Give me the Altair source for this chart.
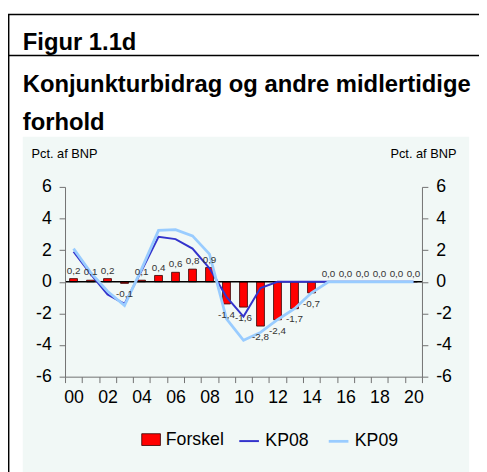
import altair as alt
import pandas as pd

# ---- data ----
years = list(range(2000, 2021))
forskel = [0.2, 0.1, 0.2, -0.1, 0.1, 0.4, 0.6, 0.8, 0.9, -1.4, -1.6, -2.8, -2.4, -1.7, -0.7,
           0.0, 0.0, 0.0, 0.0, 0.0, 0.0]
kp08 = [1.9, 0.5, -0.8, -1.4, 0.7, 2.85, 2.7, 2.1, 0.85, -0.95, -2.2, -0.4, 0.0, 0.0, 0.0,
        0.0, 0.0, 0.0, 0.0, 0.0, 0.0]
kp09 = [2.1, 0.6, -0.6, -1.5, 0.8, 3.25, 3.3, 2.9, 1.75, -2.35, -3.7, -3.2, -2.4, -1.7, -0.7,
        0.0, 0.0, 0.0, 0.0, 0.0, 0.0]
series_names = ["Forskel", "KP08", "KP09"]
series_colors = ["#FF0000", "#3333CC", "#99CCFF"]
line_widths = [2, 2.8]
y_ticks = [-6, -4, -2, 0, 2, 4, 6]

title_text = "Figur 1.1d"
subtitle_lines = ["Konjunkturbidrag og andre midlertidige", "forhold"]
unit_text = "Pct. af BNP"

FONT = "Liberation Sans"
BG = "#F1F8F6"
AX = "#707070"

df = pd.DataFrame({"year": years, "Forskel": forskel, "KP08": kp08, "KP09": kp09})
df["s1"] = series_names[0]
long = df.melt(id_vars=["year"], value_vars=["KP08", "KP09"], var_name="serie", value_name="v")
one = pd.DataFrame({"a": [0]})

yscale = alt.Scale(domain=[-6, 6], nice=False, zero=False)


def yaxis(orient, tx):
    return alt.Axis(orient=orient, values=y_ticks, title=unit_text, titleAngle=0,
                    titleX=tx, titleY=-34, titleAlign="center", titleBaseline="middle",
                    titleFontSize=13, titleFontWeight="normal", titleFont=FONT, titleColor="black",
                    labelExpr="'' + datum.value", labelFontSize=18, labelFont=FONT,
                    labelColor="black", labelPadding=8, tickSize=6, tickColor=AX,
                    domainColor=AX, grid=False, zindex=1)


xaxis = alt.Axis(title=None, labelAngle=0, tickBand="extent", labelOverlap=False,
                 labelExpr="toNumber(datum.value) % 2 == 0 ? substring(datum.label, 2, 4) : ''",
                 labelFontSize=18, labelFont=FONT, labelColor="black", labelPadding=6,
                 tickSize=6, tickColor=AX, domainColor=AX, grid=False, zindex=1)
xscale = alt.Scale(paddingInner=0, paddingOuter=0)

# ---- decoration ----
bg = alt.Chart(one).mark_rect(color=BG).encode(
    x=alt.value(-43), x2=alt.value(411), y=alt.value(-51), y2=alt.value(290))
frame_left = alt.Chart(one).mark_rule(color="black", strokeWidth=1.5).encode(
    x=alt.value(-57.3), y=alt.value(-175.3), y2=alt.value(290))
frame_top = alt.Chart(one).mark_rule(color="black", strokeWidth=1.5).encode(
    x=alt.value(-58), x2=alt.value(425), y=alt.value(-175.3))
frame_mid = alt.Chart(one).mark_rule(color="black", strokeWidth=1.5).encode(
    x=alt.value(-58), x2=alt.value(425), y=alt.value(-133.7))


def heading(txt, y):
    return alt.Chart(one).mark_text(text=txt, align="left", baseline="alphabetic",
                                    fontSize=24.2, fontWeight="bold", font=FONT,
                                    color="black").encode(x=alt.value(-43), y=alt.value(y))


t1 = heading(title_text, -139.5)
t2 = heading(subtitle_lines[0], -96.7)
t3 = heading(subtitle_lines[1], -57.7)

# ---- data marks ----
bars = alt.Chart(df).mark_bar(width=8, stroke="#300000", strokeWidth=0.8).encode(
    x=alt.X("year:O", scale=xscale, axis=xaxis),
    y=alt.Y("Forskel:Q", scale=yscale, axis=yaxis("left", -1)),
    color=alt.Color("s1:N", scale=alt.Scale(domain=series_names[:1], range=series_colors[:1]),
                    legend=alt.Legend(orient="none", legendX=77.5, legendY=247, title=None,
                                      padding=0, symbolType="M-1,-0.63H1V0.63H-1Z",
                                      symbolSize=361, symbolStrokeColor="#300000",
                                      symbolStrokeWidth=0.8, symbolOpacity=1,
                                      labelFontSize=18, labelFont=FONT, labelColor="black",
                                      labelOffset=5)),
)

zero = alt.Chart(one).mark_rule(color="black", strokeWidth=1.5).encode(
    y=alt.YDatum(0, scale=yscale, axis=None))

line_legend = alt.Legend(orient="none", legendX=175.7, legendY=247, title=None, padding=0,
                         direction="horizontal", columns=2, columnPadding=13,
                         symbolType="stroke", symbolSize=400, symbolStrokeWidth=2.5,
                         labelFontSize=18, labelFont=FONT, labelColor="black", labelOffset=5)

lines = alt.Chart(long).mark_line().encode(
    x=alt.X("year:O", scale=xscale, bandPosition=0.5, axis=None),
    y=alt.Y("v:Q", scale=yscale, axis=yaxis("right", 1)),
    color=alt.Color("serie:N", scale=alt.Scale(domain=series_names[1:], range=series_colors[1:]),
                    legend=line_legend),
    strokeWidth=alt.StrokeWidth("serie:N", scale=alt.Scale(domain=series_names[1:], range=line_widths),
                                legend=None),
)

lab_expr = "(datum.Forskel < 0 ? '-' : '') + replace(format(abs(datum.Forskel), '.1f'), '.', ',')"


def labels(filt, dy):
    return alt.Chart(df).transform_filter(filt).transform_calculate(lab=lab_expr).mark_text(
        fontSize=10, font=FONT, color="#333333", baseline="alphabetic", dy=dy).encode(
        x=alt.X("year:O", scale=xscale, bandPosition=0.5, axis=None),
        y=alt.Y("Forskel:Q", scale=yscale, axis=None),
        text="lab:N")


lab_pos = labels("datum.Forskel >= 0", -5)
lab_neg = labels("datum.Forskel < 0", 14)

chart = alt.layer(
    bg, frame_left, frame_top, frame_mid, t1, t2, t3,
    bars, zero, lines, lab_pos, lab_neg
).resolve_scale(color="independent", strokeWidth="independent").resolve_axis(
    x="independent", y="independent").properties(
    width=363, height=193,
    autosize=alt.AutoSizeParams(type="none"),
    padding={"left": 58, "top": 178, "right": 58, "bottom": 93},
    background="white",
).configure_view(strokeWidth=0)

chart.save("out.html", embed_options={"renderer": "svg", "actions": False})
